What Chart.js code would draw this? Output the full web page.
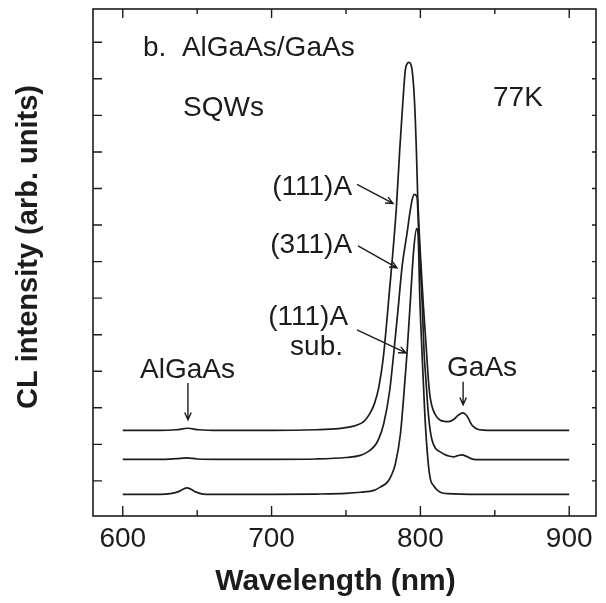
<!DOCTYPE html>
<html>
<head>
<meta charset="utf-8">
<script src="https://cdn.jsdelivr.net/npm/chart.js@4.4.1/dist/chart.umd.min.js"></script>
<style>
  html, body { margin: 0; padding: 0; background: #ffffff; }
  canvas { display: block; }
</style>
</head>
<body>
<canvas id="c" width="606" height="603"></canvas>
<script>
// ---- Data ----
const xTickLabels = [600, 700, 800, 900];
const xMinorTicks = [650, 750, 850];
const yTickValues = [1, 2, 3, 4, 5, 6, 7, 8, 9, 10, 11, 12, 13];

// (111)A  – top curve
const wl111A = [600, 625, 636, 643.6, 651, 665, 700, 730, 745, 752, 757.5, 761.9, 766, 769, 772, 775, 779, 783.9, 786.1, 788.3, 789.9, 791.2, 792.2, 793.3, 794.4, 796, 797.3, 798.2, 800, 802, 804, 805.5, 806.7, 808.5, 810.5, 813.4, 816, 819, 822.3, 825.5, 828.6, 831.5, 834.7, 838, 842, 860, 900];
const int111A = [2.38, 2.38, 2.40, 2.44, 2.40, 2.38, 2.38, 2.40, 2.43, 2.47, 2.53, 2.62, 2.84, 3.1, 3.55, 4.35, 6.1, 8.5, 10.05, 11.42, 12.25, 12.42, 12.45, 12.42, 12.25, 11.42, 10.05, 8.78, 7.2, 5.8, 4.6, 3.7, 3.25, 2.95, 2.78, 2.66, 2.63, 2.62, 2.68, 2.8, 2.86, 2.76, 2.52, 2.42, 2.39, 2.38, 2.38];

// (311)A  – middle curve
const wl311A = [600, 625, 636, 643, 650, 665, 700, 730, 750, 759.7, 764, 768.7, 772, 775.4, 779.4, 782.1, 785, 787.7, 791, 793, 794.4, 795.8, 797.7, 798.9, 801.1, 802.5, 804, 805, 806.5, 807.8, 810, 813, 816, 819, 822.3, 825, 828, 831, 835.8, 840, 860, 900];
const int311A = [1.59, 1.59, 1.61, 1.63, 1.60, 1.59, 1.59, 1.60, 1.64, 1.70, 1.78, 1.93, 2.15, 2.57, 3.48, 4.5, 5.7, 6.86, 7.77, 8.35, 8.68, 8.84, 8.77, 7.77, 5.95, 4.5, 3.6, 3.0, 2.4, 2.12, 1.9, 1.8, 1.73, 1.68, 1.66, 1.69, 1.71, 1.67, 1.59, 1.58, 1.58, 1.58];

// (111)A sub.  – bottom curve
const wlSub = [600, 625, 632, 637, 640.5, 643, 645.5, 649, 654, 665, 700, 730, 750, 760, 768.7, 773, 777.7, 780.5, 783.2, 786.6, 789.9, 791, 793.3, 795.5, 797.5, 798.5, 799.6, 801, 803, 805, 806.7, 808.7, 811, 813.4, 818, 840, 900];
const intSub = [0.63, 0.63, 0.65, 0.70, 0.77, 0.81, 0.78, 0.70, 0.64, 0.63, 0.63, 0.64, 0.66, 0.69, 0.74, 0.83, 0.96, 1.15, 1.47, 2.29, 3.9, 4.5, 5.95, 7.32, 7.9, 7.7, 6.0, 4.6, 2.8, 1.6, 1.05, 0.88, 0.76, 0.69, 0.65, 0.63, 0.63];

// Annotation texts placed in data coordinates (wavelength, intensity)
const labelTexts  = ['b.  AlGaAs/GaAs', 'SQWs', '77K', '(111)A', '(311)A', '(111)A', 'sub.', 'AlGaAs', 'GaAs'];
const labelX      = [613.6, 640.5, 848.8, 754.1, 754.1, 751.4, 748.0, 611.6, 817.9];
const labelY      = [12.63, 10.98, 11.27, 8.82, 7.24, 5.27, 4.44, 3.82, 3.87];
const labelAlign  = ['left', 'left', 'left', 'right', 'right', 'right', 'right', 'left', 'left'];

// Arrows (from -> to) in data coordinates
const arrowX0 = [757.4, 758.1, 757.4, 643.8, 828.7];
const arrowY0 = [9.11, 7.43, 5.13, 3.68, 3.71];
const arrowX1 = [781.6, 784.3, 790.3, 643.8, 828.7];
const arrowY1 = [8.59, 6.83, 4.50, 2.67, 3.08];

const toPoints = (xs, ys) => xs.map((x, i) => ({ x: x, y: ys[i] }));

const INK = '#1c1c1c';
const FONT = '"Liberation Sans", Arial, Helvetica, sans-serif';

const framePlugin = {
  id: 'framePlugin',
  afterDraw(chart) {
    const { ctx, chartArea: a, scales: { x, y } } = chart;
    ctx.save();
    ctx.strokeStyle = INK;
    ctx.lineWidth = 1.6;
    ctx.strokeRect(a.left, a.top, a.right - a.left, a.bottom - a.top);

    ctx.lineWidth = 1.4;
    ctx.beginPath();
    xTickLabels.forEach(v => {
      const px = x.getPixelForValue(v);
      ctx.moveTo(px, a.bottom); ctx.lineTo(px, a.bottom - 10);
      ctx.moveTo(px, a.top); ctx.lineTo(px, a.top + 9);
    });
    xMinorTicks.forEach(v => {
      const px = x.getPixelForValue(v);
      ctx.moveTo(px, a.bottom); ctx.lineTo(px, a.bottom - 6);
      ctx.moveTo(px, a.top); ctx.lineTo(px, a.top + 5);
    });
    yTickValues.forEach(v => {
      const py = y.getPixelForValue(v);
      ctx.moveTo(a.left, py); ctx.lineTo(a.left + 9, py);
      ctx.moveTo(a.right, py); ctx.lineTo(a.right - 4, py);
    });
    ctx.stroke();

    // annotation texts
    ctx.fillStyle = INK;
    ctx.font = '28px ' + FONT;
    ctx.textBaseline = 'alphabetic';
    labelTexts.forEach((t, i) => {
      ctx.textAlign = labelAlign[i];
      ctx.fillText(t, x.getPixelForValue(labelX[i]), y.getPixelForValue(labelY[i]));
    });

    // arrows
    ctx.lineWidth = 1.4;
    arrowX0.forEach((_, i) => {
      const x0 = x.getPixelForValue(arrowX0[i]), y0 = y.getPixelForValue(arrowY0[i]);
      const x1 = x.getPixelForValue(arrowX1[i]), y1 = y.getPixelForValue(arrowY1[i]);
      const ang = Math.atan2(y1 - y0, x1 - x0);
      const h = 8, s = 0.42;
      ctx.beginPath();
      ctx.moveTo(x0, y0); ctx.lineTo(x1, y1);
      ctx.moveTo(x1 - h * Math.cos(ang - s), y1 - h * Math.sin(ang - s));
      ctx.lineTo(x1, y1);
      ctx.lineTo(x1 - h * Math.cos(ang + s), y1 - h * Math.sin(ang + s));
      ctx.stroke();
    });

    // axis titles
    ctx.textAlign = 'center';
    ctx.textBaseline = 'alphabetic';
    ctx.font = 'bold 30px ' + FONT;
    ctx.fillText('Wavelength (nm)', (a.left + a.right) / 2 - 9, 590);
    ctx.translate(37, 247);
    ctx.rotate(-Math.PI / 2);
    ctx.font = 'bold 29px ' + FONT;
    ctx.fillText('CL intensity (arb. units)', 0, 0);
    ctx.restore();
  }
};

const lineStyle = {
  borderColor: INK,
  borderWidth: 1.7,
  pointRadius: 0,
  fill: false,
  cubicInterpolationMode: 'monotone'
};

new Chart(document.getElementById('c'), {
  type: 'line',
  data: {
    datasets: [
      Object.assign({ label: '(111)A', data: toPoints(wl111A, int111A) }, lineStyle),
      Object.assign({ label: '(311)A', data: toPoints(wl311A, int311A) }, lineStyle),
      Object.assign({ label: '(111)A sub.', data: toPoints(wlSub, intSub) }, lineStyle)
    ]
  },
  options: {
    responsive: false,
    animation: false,
    devicePixelRatio: 1,
    layout: { padding: { top: 9, right: 10, left: 0, bottom: 0 } },
    plugins: { legend: { display: false }, tooltip: { enabled: false } },
    scales: {
      x: {
        type: 'linear',
        min: 580,
        max: 918,
        grid: { display: false, drawTicks: false },
        border: { display: false },
        afterBuildTicks: s => { s.ticks = xTickLabels.map(v => ({ value: v })); },
        afterFit: s => { s.height = 87; },
        ticks: {
          color: INK,
          padding: 6,
          maxRotation: 0,
          font: { family: FONT, size: 28 },
          callback: v => String(v)
        }
      },
      y: {
        type: 'linear',
        min: 0.04,
        max: 13.91,
        grid: { display: false, drawTicks: false },
        border: { display: false },
        afterFit: s => { s.width = 93; },
        ticks: { display: false }
      }
    }
  },
  plugins: [framePlugin]
});
</script>
</body>
</html>
